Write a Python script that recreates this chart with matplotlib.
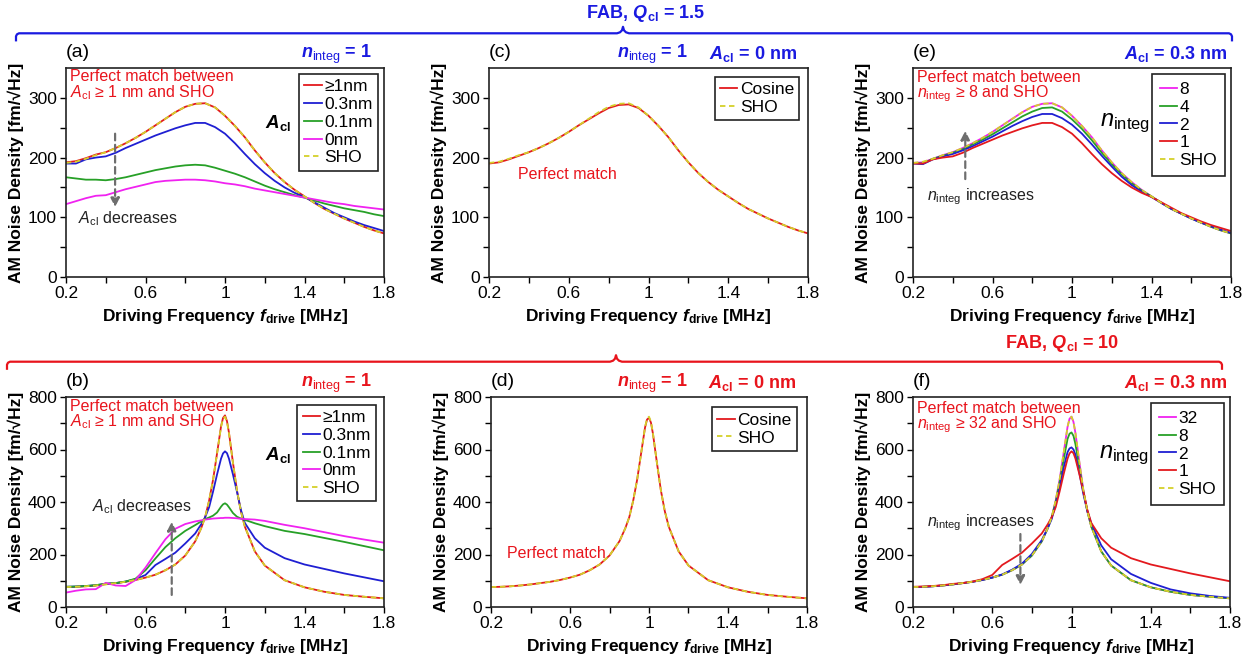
import matplotlib.pyplot as plt
from matplotlib.lines import Line2D

# Fonts (Arial-like) and mathtext for the italic/bold symbols
plt.rcParams['font.family'] = ['Liberation Sans', 'DejaVu Sans']
plt.rcParams['mathtext.fontset'] = 'custom'
plt.rcParams['mathtext.rm'] = 'Liberation Sans'
plt.rcParams['mathtext.it'] = 'Liberation Sans:italic'
plt.rcParams['mathtext.bf'] = 'Liberation Sans:bold'
plt.rcParams['mathtext.bfit'] = 'Liberation Sans:italic:bold'

# ---------------- data: Q_cl = 1.5 (top row) ----------------
freq_q15 = [0.2, 0.25, 0.3, 0.35, 0.4, 0.45, 0.5, 0.55, 0.6, 0.65, 0.7, 0.75, 0.8, 0.85, 0.9, 0.95,
            1.0, 1.05, 1.1, 1.15, 1.2, 1.25, 1.3, 1.35, 1.4, 1.45, 1.5, 1.55, 1.6, 1.65, 1.7, 1.75, 1.8]

sho_q15 = [191, 193, 198, 204, 209, 216, 224, 233, 243, 254, 265, 276, 285, 290, 291, 284,
           270, 253, 234, 212, 192, 174, 159, 146, 135, 124, 114, 106, 98, 91, 84, 78, 73]
cos_q15 = [190, 192, 197, 203, 209, 216, 224, 233, 243, 254, 264, 274, 283, 288, 289, 283,
           270, 253, 234, 212, 192, 174, 159, 146, 135, 124, 114, 106, 98, 91, 84, 78, 73]
# A_cl >= 1 nm coincides with SHO
a1_n1_q15 = [192, 194, 199, 205, 209, 216, 224, 233, 243, 254, 265, 276, 285, 290, 291, 284,
             270, 253, 234, 212, 192, 174, 159, 146, 135, 124, 114, 106, 98, 91, 84, 78, 73]
a03_n1_q15 = [190, 190, 197, 200, 202, 208, 216, 223, 230, 237, 243, 249, 254, 258, 258, 251,
              240, 224, 206, 189, 174, 161, 150, 141, 134, 125, 116, 107, 100, 93, 87, 82, 77]
a01_n1_q15 = [167, 165, 163, 163, 162, 164, 167, 171, 175, 179, 182, 185, 187, 188, 187, 183,
              178, 173, 167, 160, 153, 147, 142, 137, 133, 128, 123, 119, 115, 112, 109, 105, 102]
a0_n1_q15 = [122, 127, 132, 136, 137, 142, 147, 151, 155, 159, 161, 162, 163, 163, 162, 160,
             157, 155, 152, 148, 145, 142, 139, 136, 133, 130, 127, 124, 122, 119, 117, 115, 113]
a03_n2_q15 = [190, 189, 197, 202, 206, 212, 219, 227, 235, 244, 253, 261, 268, 273, 273, 266,
              255, 240, 222, 203, 185, 168, 154, 143, 134, 124, 114, 106, 98, 91, 85, 79, 74]
a03_n4_q15 = [191, 190, 198, 203, 208, 214, 222, 230, 239, 249, 259, 269, 277, 283, 284, 277,
              264, 248, 229, 208, 189, 172, 157, 145, 135, 124, 114, 106, 98, 91, 84, 78, 73]
a03_n8_q15 = [191, 192, 198, 204, 209, 216, 224, 233, 243, 254, 265, 276, 285, 290, 291, 284,
              270, 253, 234, 212, 192, 174, 159, 146, 135, 124, 114, 106, 98, 91, 84, 78, 73]

# ---------------- data: Q_cl = 10 (bottom row) ----------------
freq_q10 = [0.2, 0.25, 0.3, 0.35, 0.4, 0.45, 0.5, 0.55, 0.6, 0.65, 0.7, 0.75, 0.8, 0.85,
            0.88, 0.9, 0.92, 0.94, 0.96, 0.98, 0.99, 1.0, 1.01, 1.02, 1.04, 1.06, 1.08, 1.1,
            1.15, 1.2, 1.3, 1.4, 1.5, 1.6, 1.7, 1.8]

sho_q10 = [76, 77, 79, 82, 86, 91, 96, 103, 112, 123, 140, 162, 196, 250,
           300, 342, 405, 485, 585, 686, 717, 725, 705, 662, 550, 445, 365, 306,
           212, 158, 102, 75, 58, 46, 39, 33]
cos_q10 = [76, 77, 79, 82, 86, 91, 96, 103, 112, 123, 140, 162, 196, 250,
           300, 342, 405, 485, 585, 684, 714, 721, 702, 660, 550, 445, 365, 306,
           212, 158, 102, 75, 58, 46, 39, 33]
a1_n1_q10 = [76, 77, 79, 82, 87, 91, 96, 103, 112, 123, 140, 162, 196, 250,
             300, 342, 405, 485, 585, 688, 720, 730, 708, 664, 550, 445, 365, 306,
             212, 158, 102, 75, 58, 46, 39, 33]
a03_n1_q10 = [77, 78, 80, 83, 88, 91, 97, 106, 122, 160, 183, 207, 242, 280,
              315, 342, 380, 440, 505, 565, 585, 593, 586, 565, 505, 440, 370, 320,
              262, 226, 186, 162, 145, 128, 113, 98]
a01_n1_q10 = [77, 78, 80, 83, 89, 91, 97, 108, 140, 185, 228, 262, 290, 312,
              326, 335, 341, 348, 360, 382, 391, 395, 390, 380, 358, 344, 337, 332,
              319, 308, 290, 278, 263, 248, 232, 216]
a0_n1_q10 = [55, 62, 67, 68, 92, 82, 80, 103, 150, 205, 258, 298, 316, 326,
             330, 333, 335, 337, 338, 339, 339, 340, 340, 340, 339, 338, 336, 335,
             333, 328, 313, 300, 285, 270, 257, 245]
a03_n2_q10 = [76, 77, 79, 82, 86, 91, 96, 103, 112, 124, 142, 165, 202, 255,
              300, 335, 390, 455, 530, 590, 604, 608, 600, 580, 510, 430, 365, 318,
              235, 182, 126, 92, 67, 52, 42, 35]
a03_n8_q10 = [76, 77, 79, 82, 86, 91, 96, 103, 112, 123, 140, 162, 196, 250,
              300, 342, 400, 475, 560, 640, 660, 665, 652, 620, 530, 440, 365, 306,
              212, 158, 102, 75, 58, 46, 39, 33]
a03_n32_q10 = [76, 77, 79, 82, 86, 91, 96, 103, 112, 123, 140, 162, 196, 250,
               300, 342, 405, 485, 585, 686, 717, 725, 705, 662, 550, 445, 365, 306,
               212, 158, 102, 75, 58, 46, 39, 33]

acl_labels = ['\u22651nm', '0.3nm', '0.1nm', '0nm']
ninteg_top = ['8', '4', '2', '1']
ninteg_bot = ['32', '8', '2', '1']

# colours
C_RED = '#e3191e'
C_BLUE = '#1f1fd2'
C_GREEN = '#27a027'
C_MAG = '#f022f0'
C_SHO = '#d4d02a'
T_BLUE = '#1a1ae0'
T_RED = '#e8141c'
C_ARROW = '#6e6e6e'

W, H = 1256, 662
fig = plt.figure(figsize=(W / 100, H / 100), dpi=100)


def rect(l, t, r, b):
    return [l / W, 1 - b / H, (r - l) / W, (b - t) / H]


ax_a = fig.add_axes(rect(66, 68, 384, 277))
ax_c = fig.add_axes(rect(489, 68, 808, 277))
ax_e = fig.add_axes(rect(913, 68, 1231, 277))
ax_b = fig.add_axes(rect(66, 397, 384, 607))
ax_d = fig.add_axes(rect(491, 397, 807, 607))
ax_f = fig.add_axes(rect(913, 397, 1230, 607))


def style(ax, top_row):
    ax.set_xlim(0.2, 1.8)
    ax.set_xticks([0.2, 0.6, 1.0, 1.4, 1.8])
    ax.set_xticklabels(['0.2', '0.6', '1', '1.4', '1.8'])
    ax.set_xticks([0.4, 0.8, 1.2, 1.6], minor=True)
    if top_row:
        ax.set_ylim(0, 350)
        ax.set_yticks([0, 100, 200, 300])
        ax.set_yticks([50, 150, 250], minor=True)
    else:
        ax.set_ylim(0, 800)
        ax.set_yticks([0, 200, 400, 600, 800])
        ax.set_yticks([100, 300, 500, 700], minor=True)
    ax.tick_params(which='both', direction='out', length=4, width=1, labelsize=12.5, pad=2.5)
    for s in ax.spines.values():
        s.set_linewidth(1.2)
        s.set_color('#222222')
    ax.set_xlabel(r'Driving Frequency $\mathbfit{f}_{\mathbf{drive}}$ [MHz]',
                  fontsize=12.5, fontweight='bold', labelpad=4)
    ax.set_ylabel('AM Noise Density [fm/\u221aHz]', fontsize=12.5, fontweight='bold', labelpad=3)


def curves(ax, freq, series, labels, colors, sho):
    for y, lab, c in zip(series, labels, colors):
        ax.plot(freq, y, color=c, lw=1.3, label=lab)
    ax.plot(freq, sho, color=C_SHO, lw=1.3, ls=(0, (3, 2)), label='SHO')


def legend(ax, pad=0.35, bpad=0.3):
    leg = ax.legend(loc='upper right', fontsize=12.5, fancybox=False, edgecolor='#222222',
                    framealpha=1, handlelength=1.0, handletextpad=0.15, borderpad=bpad,
                    labelspacing=0.15, borderaxespad=pad)
    leg.get_frame().set_linewidth(1.2)


def arrow(ax, x, y0, y1):
    ax.annotate('', xy=(x, y1), xytext=(x, y0),
                arrowprops=dict(arrowstyle='-|>', color=C_ARROW, lw=1.6, ls=(0, (3, 2)),
                                mutation_scale=13, shrinkA=0, shrinkB=0))


def corner_text(ax, x, s, color):
    ax.text(x, 1.067, s, transform=ax.transAxes, ha='right', va='center',
            fontsize=13, fontweight='bold', color=color)


for ax in (ax_a, ax_c, ax_e):
    style(ax, True)
for ax in (ax_b, ax_d, ax_f):
    style(ax, False)

colors_acl = [C_RED, C_BLUE, C_GREEN, C_MAG]
colors_n = [C_MAG, C_GREEN, C_BLUE, C_RED]

# (a) Q=1.5, n_integ = 1, A_cl varies
curves(ax_a, freq_q15, [a1_n1_q15, a03_n1_q15, a01_n1_q15, a0_n1_q15], acl_labels, colors_acl, sho_q15)
legend(ax_a)
# (c) Q=1.5 cosine vs SHO
curves(ax_c, freq_q15, [cos_q15], ['Cosine'], [C_RED], sho_q15)
legend(ax_c, pad=0.5)
# (e) Q=1.5, A_cl = 0.3 nm, n_integ varies
curves(ax_e, freq_q15, [a03_n8_q15, a03_n4_q15, a03_n2_q15, a03_n1_q15], ninteg_top, colors_n, sho_q15)
legend(ax_e, bpad=0.45)
# (b) Q=10, n_integ = 1, A_cl varies
curves(ax_b, freq_q10, [a1_n1_q10, a03_n1_q10, a01_n1_q10, a0_n1_q10], acl_labels, colors_acl, sho_q10)
legend(ax_b, pad=0.45)
# (d) Q=10 cosine vs SHO
curves(ax_d, freq_q10, [cos_q10], ['Cosine'], [C_RED], sho_q10)
legend(ax_d, pad=0.6)
# (f) Q=10, A_cl = 0.3 nm, n_integ varies
curves(ax_f, freq_q10, [a03_n32_q10, a03_n8_q10, a03_n2_q10, a03_n1_q10], ninteg_bot, colors_n, sho_q10)
legend(ax_f, bpad=0.45)

# panel letters
for ax, lab in [(ax_a, '(a)'), (ax_c, '(c)'), (ax_e, '(e)'), (ax_b, '(b)'), (ax_d, '(d)'), (ax_f, '(f)')]:
    ax.text(0.0, 1.072, lab, transform=ax.transAxes, ha='left', va='center', fontsize=14)

# condition labels above the panels
n1 = r'$\mathbfit{n}_{\mathrm{integ}}$ = 1'
corner_text(ax_a, 0.962, n1, T_BLUE)
corner_text(ax_c, 0.624, n1, T_BLUE)
corner_text(ax_c, 0.966, r'$\mathbfit{A}_{\mathbf{cl}}$ = 0 nm', T_BLUE)
corner_text(ax_e, 0.987, r'$\mathbfit{A}_{\mathbf{cl}}$ = 0.3 nm', T_BLUE)
corner_text(ax_b, 0.962, n1, T_RED)
corner_text(ax_d, 0.623, n1, T_RED)
corner_text(ax_d, 0.967, r'$\mathbfit{A}_{\mathbf{cl}}$ = 0 nm', T_RED)
corner_text(ax_f, 0.99, r'$\mathbfit{A}_{\mathbf{cl}}$ = 0.3 nm', T_RED)


# "Perfect match" notes
def match_note(ax, y1, y2, line2):
    ax.text(0.013, y1, 'Perfect match between', transform=ax.transAxes, ha='left', va='center',
            fontsize=11.5, color=T_RED)
    ax.text(0.013, y2, line2, transform=ax.transAxes, ha='left', va='center',
            fontsize=11.5, color=T_RED)


match_note(ax_a, 0.957, 0.880, r'$\mathit{A}_{\mathrm{cl}}$ ' + '\u2265 1 nm and SHO')
match_note(ax_b, 0.954, 0.881, r'$\mathit{A}_{\mathrm{cl}}$ ' + '\u2265 1 nm and SHO')
match_note(ax_e, 0.955, 0.879, r'$\mathit{n}_{\mathrm{integ}}$ ' + '\u2265 8 and SHO')
match_note(ax_f, 0.943, 0.867, r'$\mathit{n}_{\mathrm{integ}}$ ' + '\u2265 32 and SHO')
ax_c.text(0.09, 171, 'Perfect match', transform=ax_c.get_yaxis_transform(), ha='left', va='center',
          fontsize=11.5, color=T_RED)
ax_d.text(0.05, 202, 'Perfect match', transform=ax_d.get_yaxis_transform(), ha='left', va='center',
          fontsize=11.5, color=T_RED)

# legend titles
ax_a.text(0.667, 0.737, r'$\mathbfit{A}_{\mathbf{cl}}$', transform=ax_a.transAxes, ha='center',
          va='center', fontsize=13.5)
ax_b.text(0.667, 0.724, r'$\mathbfit{A}_{\mathbf{cl}}$', transform=ax_b.transAxes, ha='center',
          va='center', fontsize=13.5)
ax_e.text(0.667, 0.737, r'$\mathit{n}_{\mathrm{integ}}$', transform=ax_e.transAxes, ha='center',
          va='center', fontsize=17)
ax_f.text(0.667, 0.724, r'$\mathit{n}_{\mathrm{integ}}$', transform=ax_f.transAxes, ha='center',
          va='center', fontsize=17)

# trend arrows
arrow(ax_a, 0.447, 240, 117)
ax_a.text(0.26, 97, r'$\mathit{A}_{\mathrm{cl}}$ decreases', ha='left', va='center', fontsize=11.5,
          color='#222222')
arrow(ax_b, 0.732, 46, 325)
ax_b.text(0.33, 382, r'$\mathit{A}_{\mathrm{cl}}$ decreases', ha='left', va='center', fontsize=11.5,
          color='#222222')
arrow(ax_e, 0.463, 164, 245)
ax_e.text(0.27, 134, r'$\mathit{n}_{\mathrm{integ}}$ increases', ha='left', va='center', fontsize=11.5,
          color='#222222')
arrow(ax_f, 0.742, 278, 84)
ax_f.text(0.27, 321, r'$\mathit{n}_{\mathrm{integ}}$ increases', ha='left', va='center', fontsize=11.5,
          color='#222222')


# curly brackets grouping the rows
def bracket(x0, x1, xc, y, color):
    xs = [x0, x0, x0 + 1, x0 + 3, xc - 6, xc - 3, xc - 1, xc, xc + 1, xc + 3, xc + 6,
          x1 - 3, x1 - 1, x1, x1]
    ys = [y + 7, y + 3, y + 1, y, y, y - 1, y - 3, y - 6.5, y - 3, y - 1, y,
          y, y + 1, y + 3, y + 7]
    fig.add_artist(Line2D([v / W for v in xs], [1 - v / H for v in ys], color=color, lw=1.6,
                          transform=fig.transFigure))


bracket(16, 1232, 623, 33.3, T_BLUE)
bracket(7, 1222, 616, 361.7, T_RED)
fig.text(646 / W, 1 - 14 / H, r'FAB, $\mathbfit{Q}_{\mathbf{cl}}$ = 1.5', ha='center', va='center',
         fontsize=13, fontweight='bold', color=T_BLUE)
fig.text(1062 / W, 1 - 344 / H, r'FAB, $\mathbfit{Q}_{\mathbf{cl}}$ = 10', ha='center', va='center',
         fontsize=13, fontweight='bold', color=T_RED)

fig.savefig('out.png', dpi=100)
